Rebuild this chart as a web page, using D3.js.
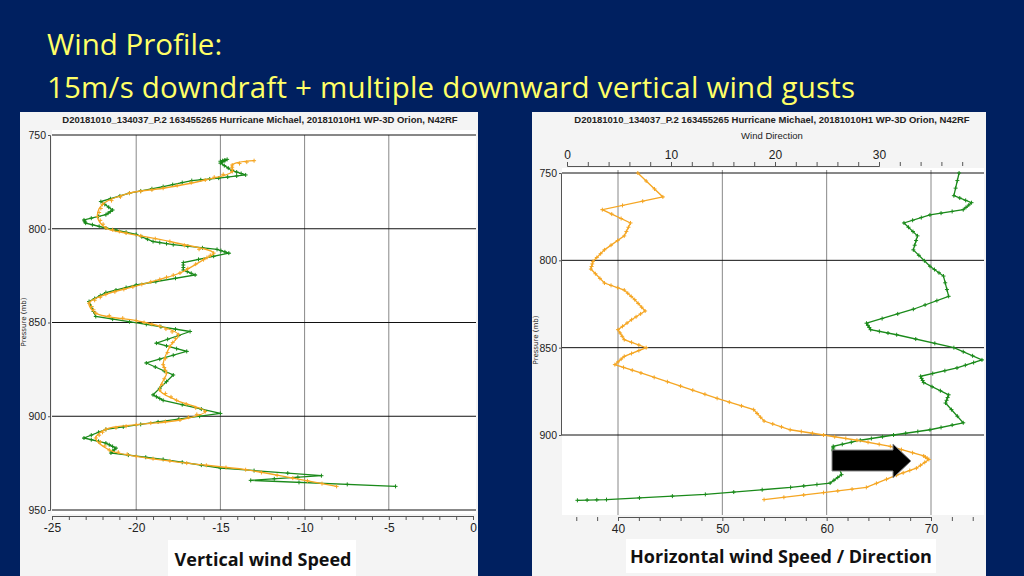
<!DOCTYPE html>
<html>
<head>
<meta charset="utf-8">
<script src="https://cdn.jsdelivr.net/npm/d3@7"></script>
<style>
  body { margin: 0; background: #002060; }
  svg { display: block; }
</style>
</head>
<body>
<svg id="chart" width="1024" height="576"></svg>
<script>
const TITLE = ['Wind Profile:', '15m/s downdraft + multiple downward vertical wind gusts'];
const PLOT_TITLE = 'D20181010_134037_P.2 163455265 Hurricane Michael, 20181010H1 WP-3D Orion, N42RF';

const PRESSURE_TICKS = [750, 800, 850, 900, 950];
const VERT_TICKS = [-25, -20, -15, -10, -5, 0];
const SPEED_TICKS = [40, 50, 60, 70];
const DIR_TICKS = [0, 10, 20, 30];

// vertical wind: [pressure, m/s]
const vertSmooth = [
  [763.7, -13.0], [766, -14.3], [769.5, -14.3], [774, -15.9], [778.4, -18.4], [781, -20.4],
  [787, -22.0], [793.5, -22.3], [799.6, -21.8], [802.3, -20.6], [806.8, -18.0], [813, -15.4],
  [816.5, -16.0], [823.6, -17.4], [827, -18.6], [831, -20.2], [835, -21.8], [839.7, -22.8],
  [845, -22.4], [849, -20.0], [852, -18.6], [856.5, -17.5], [862.8, -18.0], [872.5, -18.4],
  [877, -18.2], [886, -18.6], [891.5, -17.6], [897.5, -15.9], [902, -17.4], [904.5, -20.0],
  [907, -21.8], [911.6, -22.4], [918, -21.6], [921.4, -20.0], [925, -17.0], [928.5, -13.5],
  [933, -10.7], [937.4, -8.1]
];
const vertRaw = [
  [764, -15.0], [763, -14.6], [765, -15.0], [769, -14.3], [771.3, -13.5], [773, -15.1],
  [774.3, -16.7], [777.5, -18.4], [781, -20.4], [785.5, -22.1], [790, -21.4], [792.5, -21.8],
  [795.3, -23.1], [797, -23.0], [799.6, -21.8], [803, -20.0], [806.8, -19.0], [808.5, -17.8],
  [811, -15.2], [813, -14.5], [818, -17.2], [822, -17.2], [824.6, -16.5], [830, -20.0],
  [834, -21.8], [838.8, -22.8], [846.8, -22.4], [851, -19.4], [854.8, -16.8], [861, -18.8],
  [865.4, -17.0], [871.6, -19.4], [878, -17.8], [888.6, -19.0], [891.5, -18.4], [898.5, -15.0],
  [903, -18.7], [907, -21.8], [911.6, -23.1], [914.3, -21.8], [917, -21.2], [919.6, -21.5],
  [923, -18.4], [927.6, -15.0], [931.7, -9.0], [934.2, -13.2], [937.4, -4.6]
];

// horizontal wind speed: [pressure, speed]
const hSpeed = [
  [750, 41.9], [763.7, 44.3], [771, 38.5], [778.6, 41.2], [786, 40.6], [794, 38.7],
  [800.6, 37.6], [805, 37.4], [813, 38.7], [817, 40.6], [822.5, 41.6], [829, 42.6],
  [834, 41.3], [839.7, 40.0], [845.4, 40.6], [850, 42.7], [855, 40.6], [859.7, 39.7],
  [864.5, 42.2], [872, 46.0], [879, 49.5], [885.5, 53.0], [892, 54.0], [897, 56.5],
  [900, 59.7], [903, 62.9], [906.5, 66.1], [912, 69.3], [914, 69.8], [919, 68.6],
  [923, 66.7], [930, 63.8], [933, 59.7], [937, 54.0]
];
// wind direction: [pressure, direction]
const hDir = [
  [750, 37.7], [763, 37.2], [767, 38.9], [771, 38.1], [774, 34.9], [778.6, 32.4],
  [786, 33.7], [794, 33.3], [803.4, 34.9], [809, 36.2], [820.6, 36.7], [828, 33.3],
  [836, 28.8], [839.7, 29.2], [842.6, 31.7], [850, 37.2], [857, 39.9], [861.6, 37.5],
  [866.4, 34.0], [870, 34.3], [877, 36.7], [881.7, 36.4], [893, 38.1], [897, 34.9],
  [900, 31.4], [903, 28.2], [906.5, 25.6], [909, 25.6], [922.7, 26.4], [927.5, 25.3],
  [930, 21.5], [934, 13.3], [937, 3.8], [937.4, 1.0]
];

const ORANGE = '#f5a623';
const GREEN = '#1a8a1a';
const $svg = d3.select('#chart');

$svg.selectAll('.g-title').data(TITLE).enter().append('text')
  .attr('x', 47).attr('y', (d, i) => 55 + i * 43)
  .attr('fill', '#ffff66').attr('font-family', 'Open Sans, sans-serif').attr('font-size', 29.5)
  .attr('textLength', (d, i) => i ? 808 : null)
  .text(d => d);

// densify for markers along a line
function markers(data) {
  const out = [];
  for (let i = 1; i < data.length; i++) {
    const [a, b] = [data[i - 1], data[i]];
    out.push(a);
    for (let k = 1; k < 3; k++) out.push([a[0] + (b[0] - a[0]) * k / 3, a[1] + (b[1] - a[1]) * k / 3]);
  }
  out.push(data[data.length - 1]);
  return out;
}

function drawSeries($g, data, x, y, color, curve) {
  const line = d3.line().x(d => x(d[1])).y(d => y(d[0])).curve(curve);
  $g.append('path').datum(data).attr('d', line)
    .attr('fill', 'none').attr('stroke', color).attr('stroke-width', 1.3);
  $g.append('g').selectAll('path').data(markers(data)).enter().append('path')
    .attr('d', d => `M${x(d[1]) - 2},${y(d[0])}h4M${x(d[1])},${y(d[0]) - 2}v4`)
    .attr('stroke', color).attr('stroke-width', 1);
}

function styleAxis($a, size = 12) {
  $a.selectAll('text').attr('font-family', 'Liberation Sans Narrow, Arial Narrow, sans-serif')
    .attr('font-size', size).attr('fill', '#222');
  $a.selectAll('line,path').attr('stroke', '#555');
}

// ---------- left panel ----------
function leftPanel() {
  const $p = $svg.append('g');
  $p.append('rect').attr('x', 20).attr('y', 112).attr('width', 458).attr('height', 464).attr('fill', '#f4f4f4');
  $p.append('rect').attr('x', 52).attr('y', 130).attr('width', 424).attr('height', 384).attr('fill', '#fff');
  const x = d3.scaleLinear().domain([-25, 0]).range([52, 473]);
  const y = d3.scaleLinear().domain([750, 950]).range([135, 510]);
  $p.append('text').attr('x', 260).attr('y', 123).attr('text-anchor', 'middle')
    .attr('font-family', 'Liberation Sans Narrow, sans-serif').attr('font-size', 9.5).attr('font-weight', 'bold')
    .attr('fill', '#222').text(PLOT_TITLE);
  $p.append('g').selectAll('line').data(VERT_TICKS.slice(1, -1)).enter().append('line')
    .attr('x1', d => x(d)).attr('x2', d => x(d)).attr('y1', 135).attr('y2', 510)
    .attr('stroke', '#888').attr('stroke-width', 1);
  $p.append('g').selectAll('line').data(PRESSURE_TICKS).enter().append('line')
    .attr('x1', 52).attr('x2', 476).attr('y1', d => y(d)).attr('y2', d => y(d))
    .attr('stroke', '#111').attr('stroke-width', 1);
  const $ax = $p.append('g').attr('transform', 'translate(0,516)')
    .call(d3.axisBottom(x).tickValues(d3.range(-25, 1)).tickSize(4).tickFormat(d => VERT_TICKS.includes(d) ? d : ''));
  styleAxis($ax);
  const $ay = $p.append('g').attr('transform', 'translate(50,0)')
    .call(d3.axisLeft(y).tickValues(PRESSURE_TICKS).tickSize(2).tickPadding(2));
  styleAxis($ay, 10.5);
  $p.append('text').attr('transform', 'translate(26,322) rotate(-90)').attr('text-anchor', 'middle')
    .attr('font-family', 'DejaVu Sans, sans-serif').attr('font-size', 7).attr('fill', '#222').text('Pressure (mb)');
  drawSeries($p, vertRaw, x, y, GREEN, d3.curveLinear);
  drawSeries($p, vertSmooth, x, y, ORANGE, d3.curveCatmullRom);
  $p.append('rect').attr('x', 168).attr('y', 540).attr('width', 188).attr('height', 36).attr('fill', '#fff');
  $p.append('text').attr('x', 263).attr('y', 566).attr('text-anchor', 'middle')
    .attr('font-family', 'Open Sans, sans-serif').attr('font-weight', 'bold').attr('font-size', 18)
    .attr('fill', '#111').text('Vertical wind Speed');
}

// ---------- right panel ----------
function rightPanel() {
  const $p = $svg.append('g');
  $p.append('rect').attr('x', 532).attr('y', 112).attr('width', 454).attr('height', 464).attr('fill', '#f4f4f4');
  $p.append('rect').attr('x', 562).attr('y', 168).attr('width', 422).attr('height', 347).attr('fill', '#fff');
  const x = d3.scaleLinear().domain([40, 70]).range([618, 931]);
  const xd = d3.scaleLinear().domain([0, 30]).range([567, 879]);
  const y = d3.scaleLinear().domain([750, 900]).range([173, 435]);
  $p.append('text').attr('x', 772).attr('y', 123).attr('text-anchor', 'middle')
    .attr('font-family', 'Liberation Sans Narrow, sans-serif').attr('font-size', 9.5).attr('font-weight', 'bold')
    .attr('fill', '#222').text(PLOT_TITLE);
  $p.append('text').attr('x', 772).attr('y', 139).attr('text-anchor', 'middle')
    .attr('font-family', 'Liberation Sans Narrow, sans-serif').attr('font-size', 9.5)
    .attr('fill', '#222').text('Wind Direction');
  $p.append('g').selectAll('line').data(SPEED_TICKS).enter().append('line')
    .attr('x1', d => x(d)).attr('x2', d => x(d)).attr('y1', 170).attr('y2', 515)
    .attr('stroke', '#888').attr('stroke-width', 1);
  $p.append('g').selectAll('line').data(PRESSURE_TICKS.slice(0, 4)).enter().append('line')
    .attr('x1', 562).attr('x2', 984).attr('y1', d => y(d)).attr('y2', d => y(d))
    .attr('stroke', '#111').attr('stroke-width', 1);
  const $ax = $p.append('g').attr('transform', 'translate(0,517)')
    .call(d3.axisBottom(x).tickValues(d3.range(36, 76, 2)).tickSize(4).tickFormat(d => SPEED_TICKS.includes(d) ? d : ''));
  styleAxis($ax);
  const $at = $p.append('g').attr('transform', 'translate(0,166)')
    .call(d3.axisTop(xd).tickValues(d3.range(0, 40, 2)).tickSize(4).tickFormat(d => DIR_TICKS.includes(d) ? d : ''));
  styleAxis($at);
  const $ay = $p.append('g').attr('transform', 'translate(561,0)')
    .call(d3.axisLeft(y).tickValues(PRESSURE_TICKS.slice(0, 4)).tickSize(2).tickPadding(2));
  styleAxis($ay, 10.5);
  $p.append('text').attr('transform', 'translate(538,340) rotate(-90)').attr('text-anchor', 'middle')
    .attr('font-family', 'DejaVu Sans, sans-serif').attr('font-size', 7).attr('fill', '#222').text('Pressure (mb)');
  drawSeries($p, hDir, xd, y, GREEN, d3.curveLinear);
  drawSeries($p, hSpeed, x, y, ORANGE, d3.curveLinear);
  // highlight arrow
  $p.append('path')
    .attr('d', 'M832,450H893V444L911,461L893,478V471H832Z')
    .attr('fill', '#000').attr('stroke', '#888').attr('stroke-width', 1);
  $p.append('rect').attr('x', 626).attr('y', 539).attr('width', 310).attr('height', 34).attr('fill', '#fff');
  $p.append('text').attr('x', 781).attr('y', 563).attr('text-anchor', 'middle')
    .attr('font-family', 'Open Sans, sans-serif').attr('font-weight', 'bold').attr('font-size', 18)
    .attr('fill', '#111').text('Horizontal wind Speed / Direction');
}

leftPanel();
rightPanel();
</script>
</body>
</html>
